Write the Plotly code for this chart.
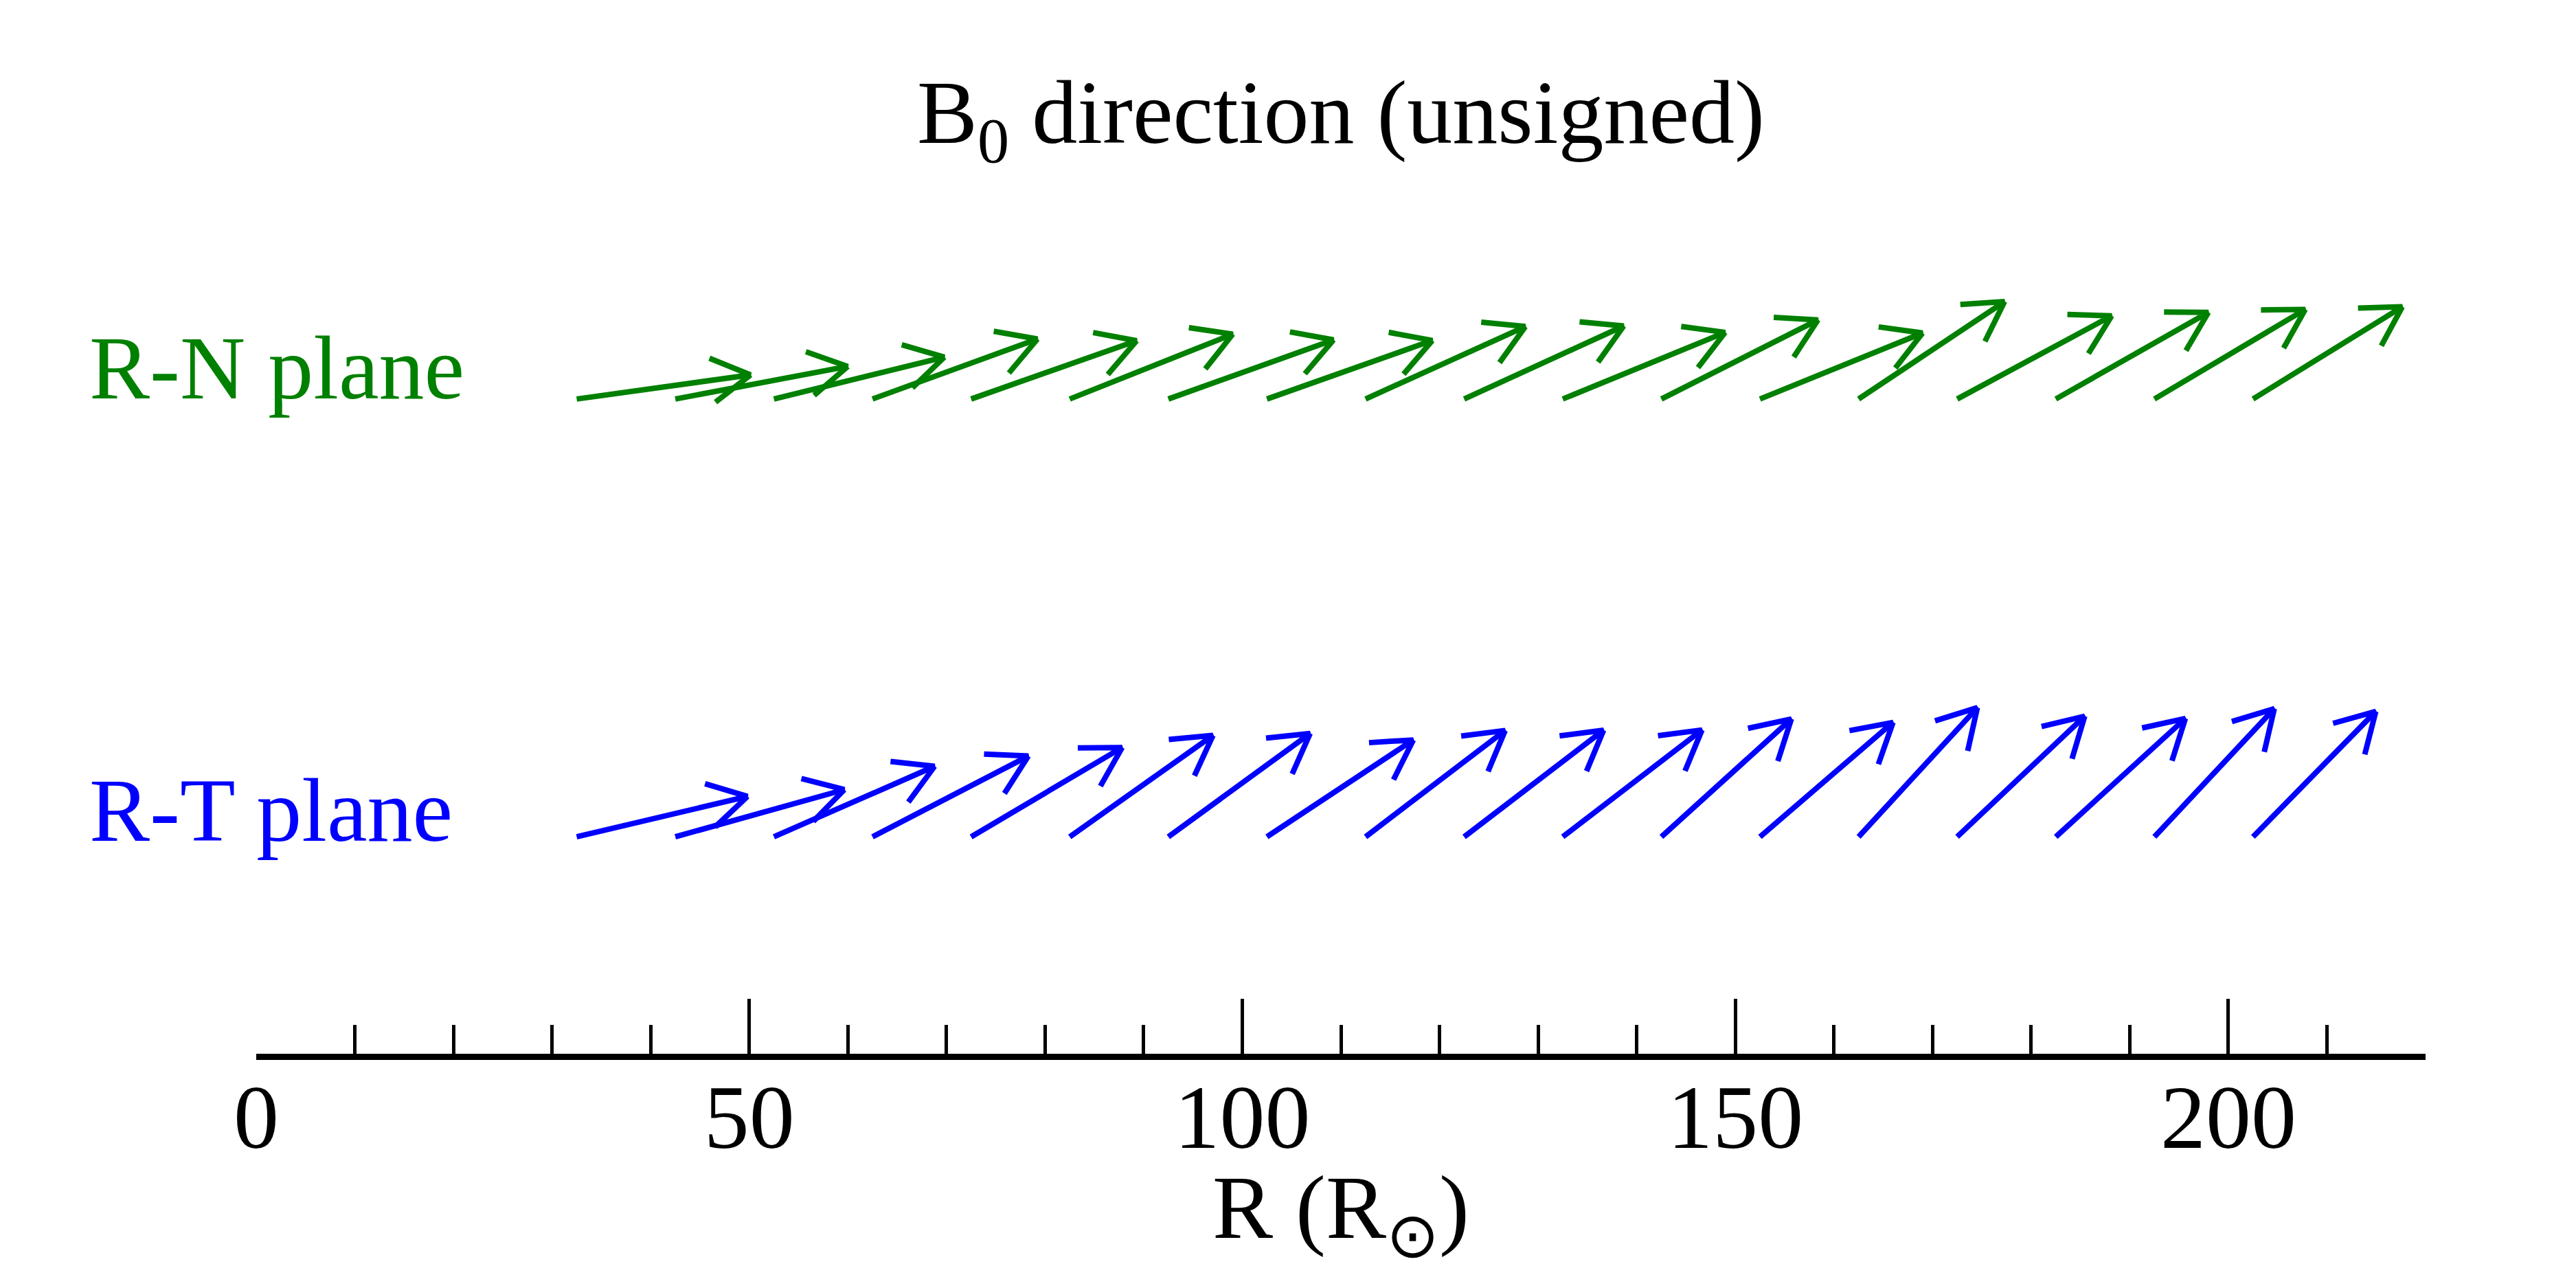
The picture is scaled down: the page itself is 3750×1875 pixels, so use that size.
import numpy as np
import plotly.graph_objects as go

# Radial distance of each arrow tail (solar radii)
r_tail = [32.5, 42.5, 52.5, 62.5, 72.5, 82.5, 92.5, 102.5, 112.5, 122.5,
          132.5, 142.5, 152.5, 162.5, 172.5, 182.5, 192.5, 202.5]

# B0 direction angle from R axis (deg), unsigned
rn_angle = [7.9, 10.7, 13.8, 20.0, 19.4, 21.7, 19.7, 19.5, 24.4, 24.6,
            22.3, 26.8, 22.1, 33.7, 28.3, 29.6, 30.7, 31.7]
rt_angle = [13.3, 15.6, 23.7, 27.4, 30.6, 35.3, 36.1, 33.5, 37.3, 37.4,
            37.5, 42.2, 40.7, 47.4, 43.4, 42.4, 46.9, 45.6]

x_ticks = [0, 50, 100, 150, 200]

W, H = 3750, 1875
ml, mr, mt, mb = 365, 227, 0, 349
xmax = 220
pxu = (W - ml - mr) / xmax          # pixels per R unit
ymax = (H - mt - mb) / pxu          # same pixel scale on y so angles are true

arrow_len = 17.8
barb_len = 4.5
barb_ang = 30.0
row_rn = 66.4
row_rt = 22.0

FONT = "Liberation Serif"
FS = 132


def arrow_path(r0, y0, angles):
    xs, ys = [], []
    for r, a in zip(r0, angles):
        t = np.radians(a)
        hx = r + arrow_len * np.cos(t)
        hy = y0 + arrow_len * np.sin(t)
        b1 = t + np.pi - np.radians(barb_ang)
        b2 = t + np.pi + np.radians(barb_ang)
        xs += [r, hx, hx + barb_len * np.cos(b1), None,
               hx, hx + barb_len * np.cos(b2), None]
        ys += [y0, hy, hy + barb_len * np.sin(b1), None,
               hy, hy + barb_len * np.sin(b2), None]
    return xs, ys


fig = go.Figure()

x, y = arrow_path(r_tail, row_rn, rn_angle)
fig.add_trace(go.Scatter(x=x, y=y, mode='lines', line=dict(color='#008000', width=8),
                         hoverinfo='skip', showlegend=False))
x, y = arrow_path(r_tail, row_rt, rt_angle)
fig.add_trace(go.Scatter(x=x, y=y, mode='lines', line=dict(color='#0000ff', width=8),
                         hoverinfo='skip', showlegend=False))

fig.update_layout(
    width=W, height=H,
    margin=dict(l=ml, r=mr, t=mt, b=mb),
    plot_bgcolor='white', paper_bgcolor='white',
    font=dict(family=FONT, size=FS, color='black'),
    xaxis=dict(range=[0, xmax], showgrid=False, zeroline=False,
               showline=True, linecolor='black', linewidth=9,
               ticks='inside', ticklen=80, tickwidth=5, tickcolor='black',
               tickvals=x_ticks, ticklabelstandoff=-30,
               minor=dict(ticks='inside', ticklen=42, tickwidth=5,
                          tickcolor='black', dtick=10, showgrid=False),
               tickfont=dict(family=FONT, size=FS)),
    yaxis=dict(range=[0, ymax], visible=False),
    annotations=[
        dict(text='B<sub>0</sub> direction (unsigned)', xref='paper', yref='paper',
             x=0.5, y=0.892, xanchor='center', yanchor='middle', showarrow=False,
             font=dict(family=FONT, size=FS)),
        dict(text='R-N plane', xref='paper', yref='paper',
             x=-0.0775, y=0.654, xanchor='left', yanchor='middle', showarrow=False,
             font=dict(family=FONT, size=FS, color='#008000')),
        dict(text='R-T plane', xref='paper', yref='paper',
             x=-0.0775, y=0.232, xanchor='left', yanchor='middle', showarrow=False,
             font=dict(family=FONT, size=FS, color='#0000ff')),
        dict(text='R (R<sub>⊙</sub>)', xref='paper', yref='paper',
             x=0.5, y=-0.153, xanchor='center', yanchor='middle', showarrow=False,
             font=dict(family=FONT, size=FS)),
    ],
)

fig.write_html("out.html")
